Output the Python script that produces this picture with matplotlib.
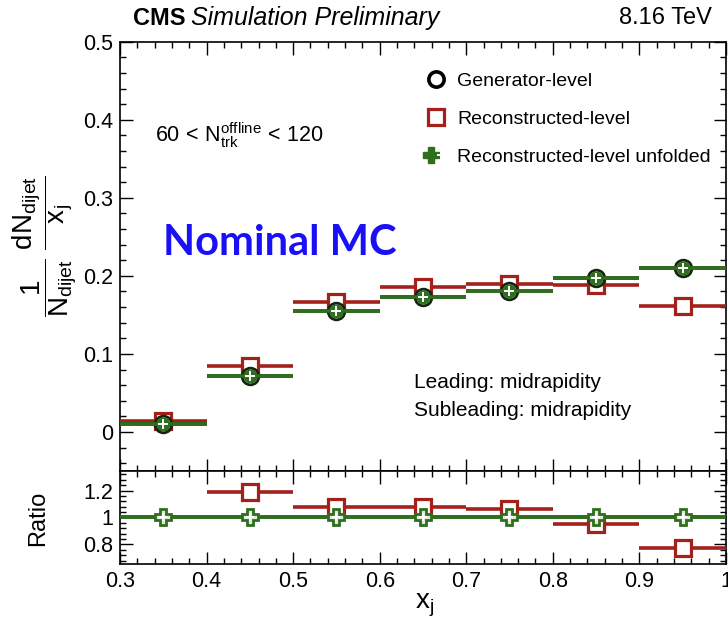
import numpy as np
import matplotlib.pyplot as plt
from matplotlib.lines import Line2D
from matplotlib.legend_handler import HandlerTuple
from matplotlib.ticker import MultipleLocator, FormatStrFormatter

plt.rcParams['font.family'] = ['Liberation Sans', 'DejaVu Sans']
plt.rcParams['mathtext.fontset'] = 'custom'
plt.rcParams['mathtext.rm'] = 'Liberation Sans'
plt.rcParams['mathtext.it'] = 'Liberation Sans:italic'
plt.rcParams['mathtext.default'] = 'regular'

# x_j bins (centres), half width 0.05
xj = [0.35, 0.45, 0.55, 0.65, 0.75, 0.85, 0.95]
half_w = 0.05

gen_level = [0.010, 0.072, 0.155, 0.173, 0.180, 0.197, 0.210]
reco_level = [0.014, 0.085, 0.167, 0.186, 0.190, 0.188, 0.162]
unfolded = [0.010, 0.072, 0.155, 0.173, 0.180, 0.197, 0.210]

# first reco ratio bin lies above the plotted range
ratio_reco = [np.nan, 1.19, 1.08, 1.08, 1.06, 0.95, 0.77]
ratio_unfolded = [1.0, 1.0, 1.0, 1.0, 1.0, 1.0, 1.0]

red = '#a3201b'
green = '#2f6e1e'

fig = plt.figure(figsize=(7.28, 6.23), dpi=100)
ax1 = fig.add_axes([0.165, 0.244, 0.832, 0.689])
ax2 = fig.add_axes([0.165, 0.0947, 0.832, 0.1493])

# ---- main panel
ax1.errorbar(xj, reco_level, xerr=half_w, fmt='s', color=red, mfc='white', mec=red,
             ms=11, mew=2.3, elinewidth=2.6, capsize=0, zorder=3)
ax1.errorbar(xj, gen_level, xerr=half_w, fmt='o', color='#1a3312', mfc='none', mec='#14260e',
             ms=12, mew=2.0, elinewidth=2.6, capsize=0, zorder=4)
ax1.errorbar(xj, unfolded, xerr=half_w, fmt='o', color=green, mfc=green, mec=green,
             ms=9, mew=1, elinewidth=2.6, capsize=0, zorder=5)
ax1.plot(xj, unfolded, '+', color='white', ms=7, mew=1.4, zorder=6)

ax1.set_xlim(0.3, 1.0)
ax1.set_ylim(-0.05, 0.5)
ax1.yaxis.set_major_locator(MultipleLocator(0.1))
ax1.yaxis.set_minor_locator(MultipleLocator(0.02))
ax1.yaxis.set_major_formatter(FormatStrFormatter('%g'))

h_gen = Line2D([], [], marker='o', ls='none', mfc='none', mec='black', ms=11, mew=2.6)
h_reco = Line2D([], [], marker='s', ls='none', mfc='white', mec=red, ms=11, mew=2.3)
h_unf1 = Line2D([], [], marker='P', ls='none', mfc=green, mec=green, ms=11)
h_unf2 = Line2D([], [], marker='+', ls='none', color='white', ms=6, mew=1.4)
ax1.legend([h_gen, h_reco, (h_unf1, h_unf2)],
           ['Generator-level', 'Reconstructed-level', 'Reconstructed-level unfolded'],
           handler_map={tuple: HandlerTuple(ndivide=None, pad=0)},
           loc='upper left', bbox_to_anchor=(0.505, 0.929), frameon=False,
           fontsize=14, handlelength=1.0, handletextpad=0.6, labelspacing=1.05,
           borderpad=0, borderaxespad=0)

ax1.text(0.058, 0.783, r'$60\,<\,N_{trk}^{offline}\,<\,120$', transform=ax1.transAxes,
         fontsize=15.5, va='center', ha='left')
ax1.text(0.07, 0.531, 'Nominal MC', transform=ax1.transAxes, fontsize=30,
         fontfamily='Lato', fontweight='bold', color='#1a10f5', va='center', ha='left')
ax1.text(0.486, 0.205, 'Leading: midrapidity', transform=ax1.transAxes,
         fontsize=15, va='center', ha='left')
ax1.text(0.486, 0.140, 'Subleading: midrapidity', transform=ax1.transAxes,
         fontsize=15, va='center', ha='left')

# ---- ratio panel
ax2.axhline(1.0, color=green, lw=2.6, zorder=2)
ax2.axhline(1.0, color='black', lw=1.0, ls=(0, (4, 3)), zorder=3)
ax2.errorbar(xj, ratio_reco, xerr=half_w, fmt='s', color=red, mfc='white', mec=red,
             ms=11, mew=2.3, elinewidth=2.6, capsize=0, zorder=4)
ax2.errorbar(xj, ratio_unfolded, xerr=half_w, fmt='P', color=green, mfc='#dfe9dc', mec=green,
             ms=12, mew=2.0, elinewidth=2.6, capsize=0, zorder=5)
ax2.plot(xj, ratio_unfolded, '+', color='white', ms=6, mew=1.3, zorder=6)

ax2.set_xlim(0.3, 1.0)
ax2.set_ylim(0.655, 1.345)
ax2.set_yticks([0.8, 1.0, 1.2])
ax2.yaxis.set_minor_locator(MultipleLocator(0.04))
ax2.yaxis.set_major_formatter(FormatStrFormatter('%g'))
ax2.xaxis.set_major_formatter(FormatStrFormatter('%g'))

for ax in (ax1, ax2):
    ax.xaxis.set_major_locator(MultipleLocator(0.1))
    ax.xaxis.set_minor_locator(MultipleLocator(0.02))
    ax.tick_params(which='both', direction='in', top=True, right=True,
                   labelsize=15.5, width=1.0, pad=5)
    ax.tick_params(which='major', length=9)
    ax.tick_params(which='minor', length=4.5)
    for s in ax.spines.values():
        s.set_linewidth(1.2)
ax1.tick_params(labelbottom=False)

# axis titles
fig.text(0.062, 0.605, r'$\dfrac{1}{N_{dijet}}\ \dfrac{dN_{dijet}}{x_{j}}$', rotation=90,
         fontsize=20, ha='center', va='center')
fig.text(0.052, 0.168, 'Ratio', rotation=90, fontsize=17, ha='center', va='center')
fig.text(0.583, 0.028, r'$x_{j}$', fontsize=20, ha='center', va='center')

# header
fig.text(0.183, 0.971, 'CMS', fontsize=17, fontweight='bold', ha='left', va='center')
fig.text(0.262, 0.971, 'Simulation Preliminary', fontsize=18, style='italic',
         ha='left', va='center')
fig.text(0.978, 0.971, '8.16 TeV', fontsize=17, ha='right', va='center')

fig.savefig('out.png', dpi=100)
